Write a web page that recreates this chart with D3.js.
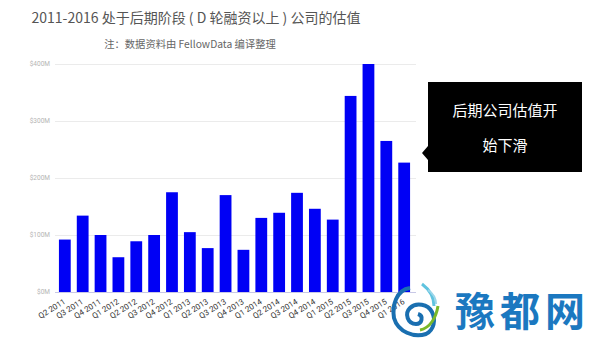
<!DOCTYPE html>
<html>
<head>
<meta charset="utf-8">
<script src="https://d3js.org/d3.v7.min.js"></script>
<style>
  body { margin: 0; background: #fff; }
  svg { display: block; font-family: "Noto Sans CJK SC", "Open Sans", sans-serif; }
</style>
</head>
<body>
<svg id="chart" width="600" height="352"></svg>
<script>
// quarters on the x axis
var quarters = ["Q2 2011", "Q3 2011", "Q4 2011", "Q1 2012", "Q2 2012", "Q3 2012", "Q4 2012",
  "Q1 2013", "Q2 2013", "Q3 2013", "Q4 2013", "Q1 2014", "Q2 2014", "Q3 2014", "Q4 2014",
  "Q1 2015", "Q2 2015", "Q3 2015", "Q4 2015", "Q1 2016"];
// valuation, $M
var valuations = [92, 134, 100, 61, 89, 100, 175, 105, 77, 170, 74, 130, 139, 174, 146, 127, 344, 400, 265, 227];
var yTicks = [0, 100, 200, 300, 400];

var svg = d3.select("#chart");
var margin = {top: 64, right: 186, bottom: 60, left: 55};
var width = 600 - margin.left - margin.right,
    height = 352 - margin.top - margin.bottom;

// title
svg.append("text")
    .attr("x", 196).attr("y", 23)
    .attr("text-anchor", "middle")
    .attr("font-size", 14)
    .attr("fill", "#555")
    .text("2011-2016 处于后期阶段 ( D 轮融资以上 ) 公司的估值");
svg.append("text")
    .attr("x", 190).attr("y", 48)
    .attr("text-anchor", "middle")
    .attr("font-size", 10.3)
    .attr("fill", "#666")
    .text("注：数据资料由 FellowData 编译整理");

var g = svg.append("g").attr("transform", "translate(" + margin.left + "," + margin.top + ")");

var x = d3.scaleBand()
    .domain(quarters)
    .range([0, 359])
    .paddingInner(0.34)
    .paddingOuter(0.22);

var y = d3.scaleLinear()
    .domain([0, 400])
    .range([height, 0]);

// grid
g.append("g")
    .selectAll("line")
    .data(yTicks.slice(1))
    .enter().append("line")
      .attr("x1", 0).attr("x2", 361)
      .attr("y1", function(d) { return y(d) + 0.5; })
      .attr("y2", function(d) { return y(d) + 0.5; })
      .attr("stroke", "#ebebeb");

g.append("g")
    .selectAll("text")
    .data(yTicks)
    .enter().append("text")
      .attr("x", -5)
      .attr("y", function(d) { return y(d); })
      .attr("dy", "0.32em")
      .attr("text-anchor", "end")
      .attr("font-family", "Roboto, sans-serif")
      .attr("font-size", 6.5)
      .attr("fill", "#b5b5b5")
      .text(function(d) { return "$" + d + "M"; });

// bars
g.append("g")
    .selectAll("rect")
    .data(valuations)
    .enter().append("rect")
      .attr("x", function(d, i) { return x(quarters[i]); })
      .attr("y", function(d) { return y(d); })
      .attr("width", x.bandwidth())
      .attr("height", function(d) { return height - y(d); })
      .attr("fill", "#0000f5");

// baseline
g.append("line")
    .attr("x1", 0).attr("x2", 361)
    .attr("y1", height + 0.5).attr("y2", height + 0.5)
    .attr("stroke", "#c8c8e6");

// x labels
g.append("g")
    .selectAll("text")
    .data(quarters)
    .enter().append("text")
      .attr("transform", function(d) {
        return "translate(" + (x(d) + x.bandwidth() / 2 - 2) + "," + (height + 6) + ") rotate(-32)";
      })
      .attr("text-anchor", "end")
      .attr("dy", "0.75em")
      .attr("font-family", "Roboto, sans-serif")
      .attr("font-size", 8)
      .attr("fill", "#333")
      .text(function(d) { return d; });

// callout box
var box = svg.append("g").attr("transform", "translate(428,82)");
box.append("rect")
    .attr("width", 154).attr("height", 90)
    .attr("fill", "#000");
box.append("path")
    .attr("d", "M0,64 L-6,71 L0,78 Z")
    .attr("fill", "#000");
box.append("text")
    .attr("x", 77).attr("y", 29)
    .attr("dy", "0.35em")
    .attr("text-anchor", "middle")
    .attr("font-size", 15)
    .attr("fill", "#fff")
    .text("后期公司估值开");
box.append("text")
    .attr("x", 77).attr("y", 64)
    .attr("dy", "0.35em")
    .attr("text-anchor", "middle")
    .attr("font-size", 15)
    .attr("fill", "#fff")
    .text("始下滑");

// watermark logo
var logo = svg.append("g").attr("transform", "translate(414,312)");
logo.append("path")
    .attr("d", "M-4,-24 C-18,-22 -22,-6 -20,6 C-16,20 0,26 12,22 C20,18 22,8 18,0 C14,-8 2,-10 -4,-4 C-10,2 -6,12 2,12 C8,12 10,4 4,2")
    .attr("fill", "none").attr("stroke", "#1a6fb0").attr("stroke-width", 4);
logo.append("path")
    .attr("d", "M8,-28 C16,-22 20,-14 20,-6")
    .attr("fill", "none").attr("stroke", "#5fc3df").attr("stroke-width", 3);
logo.append("path")
    .attr("d", "M14,-22 C20,-18 22,-12 22,-8")
    .attr("fill", "none").attr("stroke", "#9ad6ea").attr("stroke-width", 2);
logo.append("path")
    .attr("d", "M6,18 C16,16 22,6 24,-6")
    .attr("fill", "none").attr("stroke", "#7ab829").attr("stroke-width", 3);
svg.append("text")
    .attr("x", 455).attr("y", 312)
    .attr("dy", "0.35em")
    .attr("text-anchor", "start")
    .attr("font-size", 40)
    .attr("font-weight", "bold")
    .attr("letter-spacing", 5)
    .attr("fill", "#1b78c0")
    .text("豫都网");
</script>
</body>
</html>
